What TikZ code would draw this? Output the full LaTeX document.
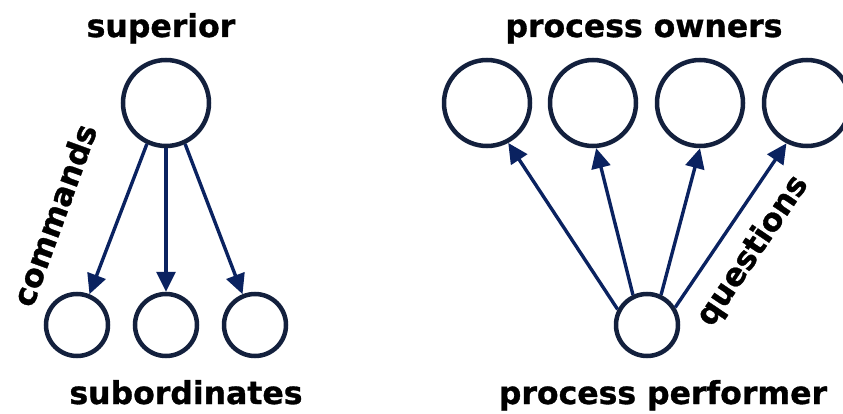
\documentclass[tikz,border=0pt]{standalone}
\usepackage{fontspec}
\setmainfont[BoldFeatures={FakeBold=1}]{DejaVu Sans}
\usetikzlibrary{arrows.meta}

\definecolor{ringnavy}{HTML}{13203D}
\definecolor{arrownavy}{HTML}{0A2260}

\begin{document}
\begin{tikzpicture}[x=1pt, y=-1pt,
    bigrole/.style={circle, draw=ringnavy, line width=4.5pt, minimum size=86pt, inner sep=0pt},
    smallrole/.style={circle, draw=ringnavy, line width=4.5pt, minimum size=62pt, inner sep=0pt},
    flow/.style={draw=arrownavy, line width=3.4pt, -{Triangle[length=20pt, width=19pt]}},
    caption/.style={font=\fontsize{31.5}{36}\selectfont\bfseries, text=black, inner sep=0pt}]
    % Fix the page to the reference size
    \useasboundingbox (0,0) rectangle (843,414);

    % Left: superior and subordinates
    \node[bigrole] (superior) at (166,103) {};
    \node[smallrole] (sub1) at (77,325) {};
    \node[smallrole] (sub2) at (166,325) {};
    \node[smallrole] (sub3) at (255,325) {};
    \node[caption, anchor=base] (suplabel) at (161,37) {superior};
    \node[caption, anchor=base] (sublabel) at (186,404) {subordinates};
    \node[caption, rotate=70] (cmdlabel) at (54,215) {commands};

    \draw[flow] (superior.-115) -- (sub1.68);
    \draw[flow] (superior.-90) -- (sub2.90);
    \draw[flow] (superior.-65) -- (sub3.112);

    % Right: process owners and process performer
    \node[bigrole] (owner1) at (487,103) {};
    \node[bigrole] (owner2) at (593,103) {};
    \node[bigrole] (owner3) at (700,103) {};
    \node[bigrole] (owner4) at (807,103) {};
    \node[smallrole] (performer) at (647,325) {};
    \node[caption, anchor=base] (ownlabel) at (644,37) {process owners};
    \node[caption, anchor=base] (perflabel) at (663,404) {process performer};
    \node[caption, rotate=56] (qlabel) at (753,251) {questions};

    \draw[flow] (performer.152) -- (owner1.-62);
    \draw[flow] (performer.115) -- (owner2.-86);
    \draw[flow] (performer.65) -- (owner3.-90);
    \draw[flow] (performer.32) -- (owner4.-117);
\end{tikzpicture}
\end{document}
